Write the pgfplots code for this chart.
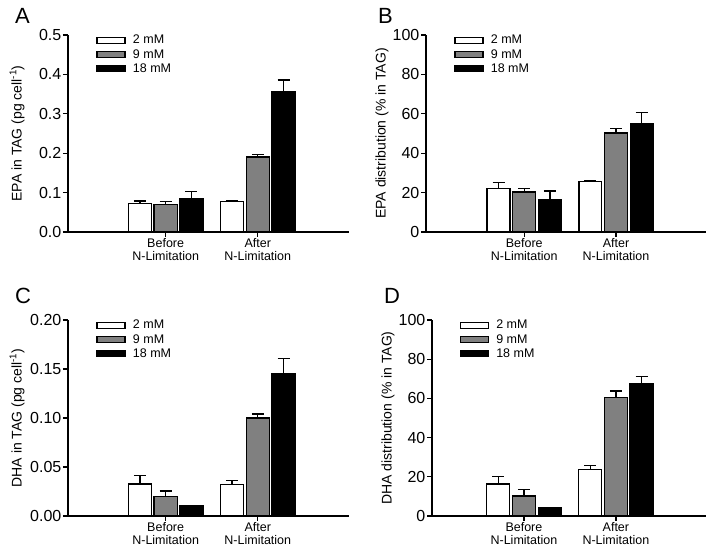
\documentclass[border=0pt]{standalone}
\usepackage{fontspec}
\setmainfont{Liberation Sans}
\usepackage{pgfplots}
\pgfplotsset{compat=1.18}
\definecolor{bargray}{RGB}{128,128,128}
\pgfplotsset{
  panel/.style={
    scale only axis,
    axis lines=left,
    axis line style={-, line width=1.3pt},
    ymin=0,
    xtick={1,2},
    xticklabels={Before\\N-Limitation, After\\N-Limitation},
    xticklabel style={align=center, font=\fontsize{12.5}{13}\selectfont, inner sep=1pt},
    yticklabel style={font=\fontsize{16}{16}\selectfont, inner sep=1.5pt},
    /pgf/number format/assume math mode=true,
    tick align=outside,
    major tick length=5pt,
    tick style={line width=1.3pt, black},
    ylabel style={font=\fontsize{14}{14}\selectfont, at={(axis description cs:0,0.5)}, anchor=center},
    ybar,
    bar width=0.25,
    legend style={at={(axis description cs:0.1,1.01)}, anchor=north west, draw=none, fill=none, inner sep=0pt,
      font=\fontsize{12.5}{12.5}\selectfont, row sep=0pt, cells={anchor=west}},
    legend image code/.code={\draw[#1, line width=1.3pt, bar shift=0pt] (0pt,-3pt) rectangle (28pt,3pt); \path[draw=none, fill=none] (0pt,0pt) -- (34pt,0pt);},
  },
  b1/.style={fill=white, draw=black, line width=1.3pt, bar shift=-0.28,
    error bars/.cd, y dir=plus, y explicit, error bar style={line width=1.3pt}, error mark options={rotate=90, mark size=6pt, line width=1.3pt}},
  b2/.style={fill=bargray, draw=black, line width=1.3pt, bar shift=0,
    error bars/.cd, y dir=plus, y explicit, error bar style={line width=1.3pt}, error mark options={rotate=90, mark size=6pt, line width=1.3pt}},
  b3/.style={fill=black, draw=black, line width=1.3pt, bar shift=0.28,
    error bars/.cd, y dir=plus, y explicit, error bar style={line width=1.3pt}, error mark options={rotate=90, mark size=6pt, line width=1.3pt}},
}
\begin{document}
\begin{tikzpicture}
\useasboundingbox (0,0) rectangle (726pt,556pt);
% Panel A
\begin{axis}[panel, at={(68pt,324pt)}, anchor=south west, width=281pt, height=197pt,
  xmin=-0.06, xmax=2.99, ymax=0.5, ytick={0,0.1,...,0.5},
  yticklabel style={/pgf/number format/.cd, fixed, fixed zerofill, precision=1},
  ylabel={EPA in TAG (pg cell\textsuperscript{-1})}, ylabel style={yshift=51pt}]
\addplot[b1] coordinates {(1,0.0718) +- (0,0.0072) (2,0.0777) +- (0,0.0015)};
\addplot[b2] coordinates {(1,0.070) +- (0,0.007) (2,0.190) +- (0,0.006)};
\addplot[b3] coordinates {(1,0.0845) +- (0,0.0175) (2,0.356) +- (0,0.030)};
\legend{2 mM, 9 mM, 18 mM}
\end{axis}
% Panel B
\begin{axis}[panel, at={(426pt,324pt)}, anchor=south west, width=280pt, height=197pt,
  xmin=-0.07, xmax=2.98, ymax=100, ytick={0,20,...,100},
  ylabel={EPA distribution (\% in TAG)}, ylabel style={yshift=44pt}]
\addplot[b1] coordinates {(1,22.0) +- (0,3.3) (2,25.8) +- (0,0.2)};
\addplot[b2] coordinates {(1,20.3) +- (0,1.7) (2,50.2) +- (0,2.5)};
\addplot[b3] coordinates {(1,16.4) +- (0,4.4) (2,54.9) +- (0,5.9)};
\legend{2 mM, 9 mM, 18 mM}
\end{axis}
% Panel C
\begin{axis}[panel, at={(68pt,40pt)}, anchor=south west, width=281pt, height=196pt,
  xmin=-0.06, xmax=2.99, ymax=0.2, ytick={0,0.05,...,0.2},
  yticklabel style={/pgf/number format/.cd, fixed, fixed zerofill, precision=2},
  ylabel={DHA in TAG (pg cell\textsuperscript{-1})}, ylabel style={yshift=51pt}]
\addplot[b1] coordinates {(1,0.0327) +- (0,0.0088) (2,0.0320) +- (0,0.0044)};
\addplot[b2] coordinates {(1,0.0197) +- (0,0.0058) (2,0.100) +- (0,0.004)};
\addplot[b3] coordinates {(1,0.0105) +- (0,0) (2,0.145) +- (0,0.016)};
\legend{2 mM, 9 mM, 18 mM}
\end{axis}
% Panel D
\begin{axis}[panel, at={(432pt,40pt)}, anchor=south west, width=274pt, height=196pt,
  xmin=0.0, xmax=2.98, ymax=100, ytick={0,20,...,100},
  ylabel={DHA distribution (\% in TAG)}, ylabel style={yshift=44pt}]
\addplot[b1] coordinates {(1,16.4) +- (0,3.7) (2,23.9) +- (0,1.7)};
\addplot[b2] coordinates {(1,10.2) +- (0,3.3) (2,60.6) +- (0,3.2)};
\addplot[b3] coordinates {(1,4.4) +- (0,0) (2,67.7) +- (0,3.6)};
\legend{2 mM, 9 mM, 18 mM}
\end{axis}
\node[font=\fontsize{22}{22}\selectfont, anchor=base west, inner sep=0pt] at (15pt,532pt) {A};
\node[font=\fontsize{22}{22}\selectfont, anchor=base west, inner sep=0pt] at (378pt,532pt) {B};
\node[font=\fontsize{22}{22}\selectfont, anchor=base west, inner sep=0pt] at (15pt,252pt) {C};
\node[font=\fontsize{22}{22}\selectfont, anchor=base west, inner sep=0pt] at (384pt,252pt) {D};
\end{tikzpicture}
\end{document}
